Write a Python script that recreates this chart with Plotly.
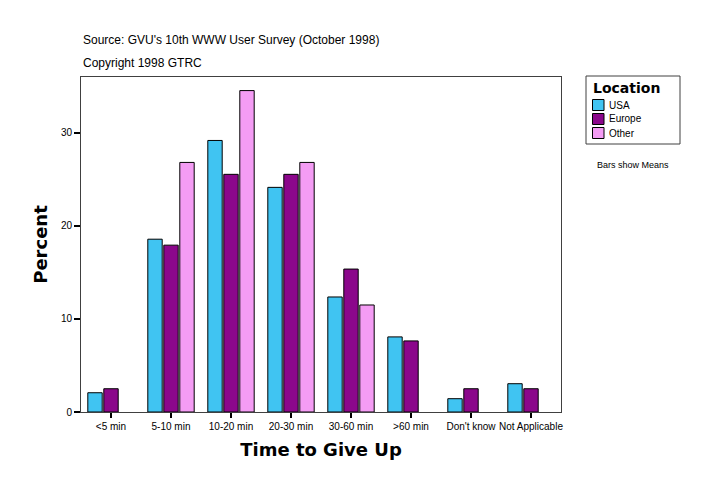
import plotly.graph_objects as go

categories = ["<5 min", "5-10 min", "10-20 min", "20-30 min", "30-60 min", ">60 min", "Don't know", "Not Applicable"]
usa = [2.07, 18.57, 29.18, 24.14, 12.36, 8.07, 1.43, 3.04]
europe = [2.5, 17.93, 25.54, 25.54, 15.36, 7.64, 2.5, 2.5]
other = [None, 26.82, 34.54, 26.82, 11.5, None, None, None]

series_names = ["USA", "Europe", "Other"]
series_values = [usa, europe, other]
series_colors = ["#40C4F2", "#8B078B", "#F49CF4"]

L, T, W, H = 81, 77, 480, 335  # plot area in pixels
FW, FH = 724, 496


def px(x):
    return (x - L) / W


def py(y):
    return (T + H - y) / H


fig = go.Figure()
for name, vals, col in zip(series_names, series_values, series_colors):
    fig.add_trace(go.Bar(x=categories, y=vals, name=name, showlegend=False,
                         marker=dict(color=col, line=dict(color="black", width=1))))

fig.update_layout(
    width=FW, height=FH,
    margin=dict(l=L, r=FW - L - W, t=T, b=FH - T - H),
    paper_bgcolor="white", plot_bgcolor="white",
    barmode="group", bargap=0.2, bargroupgap=0.1,
    font=dict(family="Liberation Sans, Arial", size=10, color="black"),
)
fig.update_xaxes(
    showline=True, linecolor="#404040", linewidth=1, mirror=True,
    ticks="outside", ticklen=5, tickwidth=2, tickcolor="black",
    tickfont=dict(size=10),
    title=dict(text="<b>Time to Give Up</b>", font=dict(family="DejaVu Sans", size=18), standoff=12),
)
fig.update_yaxes(
    range=[0, 36], tickvals=[0, 10, 20, 30],
    showline=True, linecolor="#404040", linewidth=1, mirror=True,
    showgrid=False, zeroline=False,
    ticks="outside", ticklen=6, tickwidth=2, tickcolor="black",
    tickfont=dict(size=10),
    title=dict(text="<b>Percent</b>", font=dict(family="DejaVu Sans", size=18), standoff=8),
)

fig.add_annotation(text="Source: GVU's 10th WWW User Survey (October 1998)", xref="paper", yref="paper",
                   x=0, y=py(40), xanchor="left", yanchor="middle", showarrow=False, font=dict(size=12))
fig.add_annotation(text="Copyright 1998 GTRC", xref="paper", yref="paper",
                   x=0, y=py(63), xanchor="left", yanchor="middle", showarrow=False, font=dict(size=12))
fig.add_annotation(text="Bars show Means", xref="paper", yref="paper",
                   x=px(633), y=py(165), xanchor="center", yanchor="middle", showarrow=False, font=dict(size=9))

# legend box
fig.add_shape(type="rect", xref="paper", yref="paper", x0=px(586), x1=px(680), y0=py(76), y1=py(144),
              line=dict(color="#404040", width=1), fillcolor="white")
fig.add_annotation(text="<b>Location</b>", xref="paper", yref="paper", x=px(591), y=py(88.5),
                   xanchor="left", yanchor="middle", showarrow=False,
                   font=dict(family="DejaVu Sans", size=14))
for i, (name, col) in enumerate(zip(series_names, series_colors)):
    yc = 105 + 14 * i
    fig.add_shape(type="rect", xref="paper", yref="paper", x0=px(592.5), x1=px(604),
                  y0=py(yc - 5.5), y1=py(yc + 5.5), line=dict(color="black", width=1), fillcolor=col)
    fig.add_annotation(text=name, xref="paper", yref="paper", x=px(606.5), y=py(yc),
                       xanchor="left", yanchor="middle", showarrow=False, font=dict(size=10))

fig.write_html("out.html", config={"displayModeBar": False},
               post_script="document.body.style.margin='0';document.body.style.padding='0';")
